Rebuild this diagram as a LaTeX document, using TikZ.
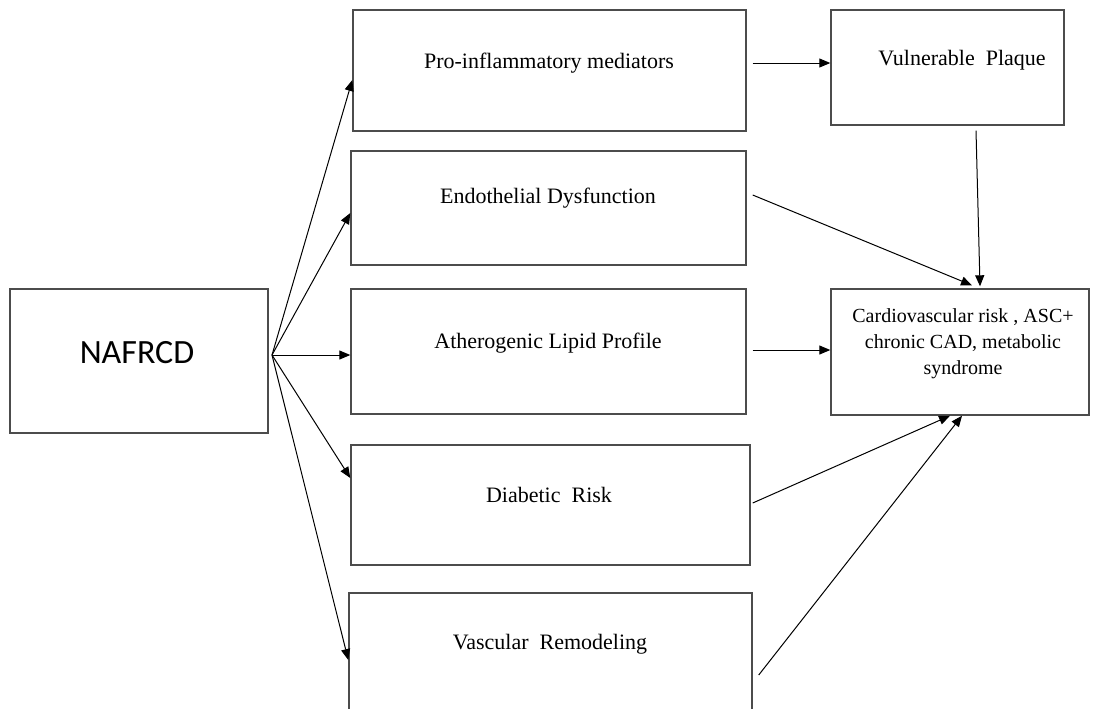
\documentclass[tikz,border=0pt]{standalone}
\usepackage{fontspec}
\setmainfont{Liberation Serif}
\newfontfamily\calib{Carlito}
\usetikzlibrary{arrows.meta}
\begin{document}
\begin{tikzpicture}[x=0.5pt,y=-0.5pt,
  box/.style={draw=black!70, line width=0.7pt, rectangle, inner sep=0pt},
  lbl/.style={font=\fontsize{11}{13}\selectfont, align=center, inner sep=0pt},
  conn/.style={draw=black, line width=0.5pt, -{Triangle[length=5.5pt,width=4.5pt]}}]
\useasboundingbox (0,0) rectangle (1095,708);
\clip (0,0) rectangle (1095,708);
% boxes
\node[box, minimum width=129pt, minimum height=72pt] (naf) at (139,361) {};
\node[box, minimum width=196.5pt, minimum height=60.5pt] (pi) at (549.5,70.5) {};
\node[box, minimum width=197.5pt, minimum height=57pt] (ed) at (548.5,208) {};
\node[box, minimum width=197.5pt, minimum height=62.5pt] (alp) at (548.5,351.5) {};
\node[box, minimum width=199.5pt, minimum height=60pt] (dr) at (550.5,505) {};
\node[box, minimum width=201.5pt, minimum height=65pt] (vr) at (550.5,658) {};
\node[box, minimum width=116.5pt, minimum height=57.5pt] (vp) at (947.5,67.5) {};
\node[box, minimum width=129pt, minimum height=63pt] (cv) at (960,352) {};
% texts
\node[inner sep=0pt, font=\calib\fontsize{17}{20}\selectfont] (tnaf) at (137,353) {NAFRCD};
\node[lbl] (tpi) at (549,63) {Pro-inflammatory mediators};
\node[lbl] (ted) at (548,198) {Endothelial Dysfunction};
\node[lbl] (talp) at (548,343) {Atherogenic Lipid Profile};
\node[lbl] (tdr) at (549,495) {Diabetic\ \ Risk};
\node[lbl] (tvr) at (550,644) {Vascular\ \ Remodeling};
\node[lbl] (tvp) at (962,60) {Vulnerable\ \ Plaque};
\node[lbl, font=\fontsize{10}{13}\selectfont] (tcv) at (963,344) {Cardiovascular risk , ASC+\\chronic CAD, metabolic\\syndrome};
% fan
\coordinate (fan) at (272,355);
\draw[conn] (fan) -- ([yshift=-4.75pt]pi.west);
\draw[conn] (fan) -- ([yshift=-2.5pt]ed.west);
\draw[conn] (fan) -- ([yshift=-1.75pt]alp.west);
\draw[conn] (fan) -- ([yshift=13.5pt]dr.west);
\draw[conn] (fan) -- ([yshift=-1pt]vr.west);
% right side
\draw[conn] ([xshift=3pt,yshift=3.75pt]pi.east) -- ([yshift=2.25pt]vp.west);
\draw[conn] ([xshift=14.25pt,yshift=-2.5pt]vp.south) -- ([xshift=10pt,yshift=1pt]cv.north);
\draw[conn] ([xshift=3pt,yshift=6.5pt]ed.east) -- ([xshift=6pt,yshift=1.5pt]cv.north);
\draw[conn] ([xshift=3pt,yshift=0.75pt]alp.east) -- ([yshift=1pt]cv.west);
\draw[conn] ([xshift=1pt,yshift=1pt]dr.east) -- ([xshift=-5pt]cv.south);
\draw[conn] ([xshift=3pt,yshift=-8.5pt]vr.east) -- ([xshift=1pt]cv.south);
\end{tikzpicture}
\end{document}
